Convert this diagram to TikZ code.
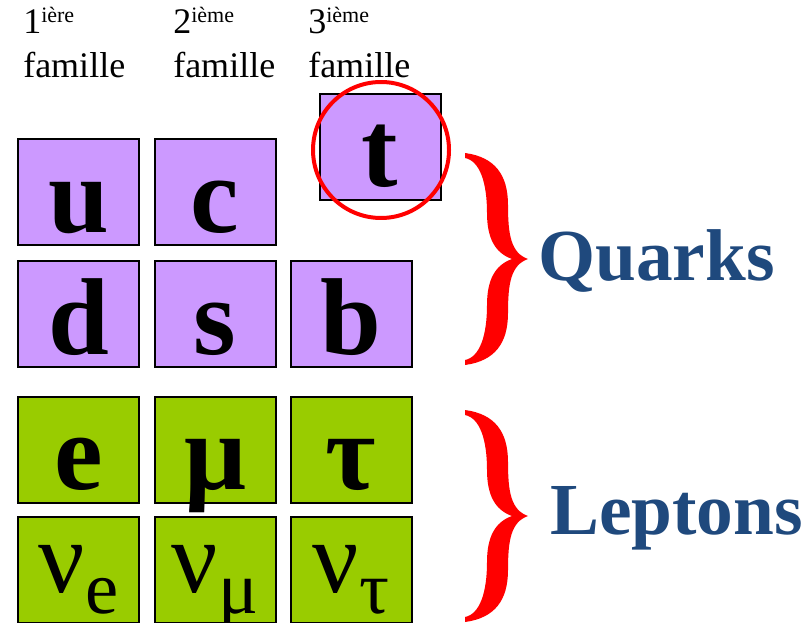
\documentclass[tikz,border=0pt]{standalone}
\usepackage{fontspec}
\setmainfont{Liberation Serif}
\usetikzlibrary{positioning}
\definecolor{quarkfill}{HTML}{CC99FF}
\definecolor{leptonfill}{HTML}{99CC00}
\definecolor{navy}{HTML}{1F497D}
\definecolor{bracered}{HTML}{FF0000}

% curly brace, top end at #1
\newcommand{\accolade}[1]{%
  \fill[bracered,shift={(#1)}] (0,0) .. controls (30,4) and (43,22) .. (43,52)
    .. controls (43,82) and (46,100) .. (63,106)
    .. controls (46,112) and (43,130) .. (43,160)
    .. controls (43,190) and (30,208) .. (0,212) -- (0,207)
    .. controls (15,204) and (22,182) .. (22,152)
    .. controls (22,127) and (30,112) .. (47,106)
    .. controls (30,100) and (22,85) .. (22,60)
    .. controls (22,30) and (15,8) .. (0,5) -- cycle;}
\newcommand{\nusub}[1]{\raisebox{-16pt}{\fontsize{56}{56}\selectfont #1}}

\begin{document}
\begin{tikzpicture}[x=0.75pt,y=-0.75pt,
  particle/.style={draw=black,line width=1.5pt,inner sep=0pt,minimum width=90.75pt,
    text height=69.75pt,text depth=9.75pt,font=\fontsize{82}{82}\selectfont\bfseries},
  quark/.style={particle,fill=quarkfill},
  lepton/.style={particle,fill=leptonfill},
  neutrino/.style={lepton,text height=56.25pt,text depth=23.25pt,font=\fontsize{77}{77}\selectfont},
  header/.style={anchor=base west,inner sep=0pt,font=\fontsize{27}{33}\selectfont},
  group/.style={anchor=base west,inner sep=0pt,text=navy,font=\fontsize{55}{55}\selectfont\bfseries}]
  \clip (0,0) rectangle (812,623);
  % family headers
  \foreach \x/\n/\s [count=\i] in {23/1/ière,173/2/ième,308/3/ième}{
    \node[header] (rank\i) at (\x,34) {\n\raisebox{8.25pt}{\fontsize{16.5}{16.5}\selectfont\s}};
    \node[header] (fam\i) at (\x,78) {famille};
  }
  % quarks
  \node[quark] (u) at (78.5,192.5) {u};
  \node[quark] (c) at (215,192.5) {c};
  \node[quark] (t) at (380,147) {t};
  \node[quark] (d) at (78.5,314) {d};
  \node[quark] (s) at (215,314) {s};
  \node[quark] (b) at (351,314) {b};
  \draw[bracered,line width=3pt] ([shift={(1,3)}]t.center) circle[radius=68];
  % leptons
  \node[lepton] (e) at (78.5,449.5) {e};
  \node[lepton] (mu) at (215,449.5) {μ};
  \node[lepton] (tau) at (351,449.5) {τ};
  \node[neutrino] (nue) at (78.5,570) {ν\nusub{e}};
  \node[neutrino] (numu) at (215,570) {ν\nusub{μ}};
  \node[neutrino] (nutau) at (351,570) {ν\nusub{τ}};
  % braces and labels
  \accolade{465,153}
  \accolade{465,410}
  \node[group] (quarks) at (538,280) {Quarks};
  \node[group] (leptons) at (550,534) {Leptons};
\end{tikzpicture}
\end{document}
